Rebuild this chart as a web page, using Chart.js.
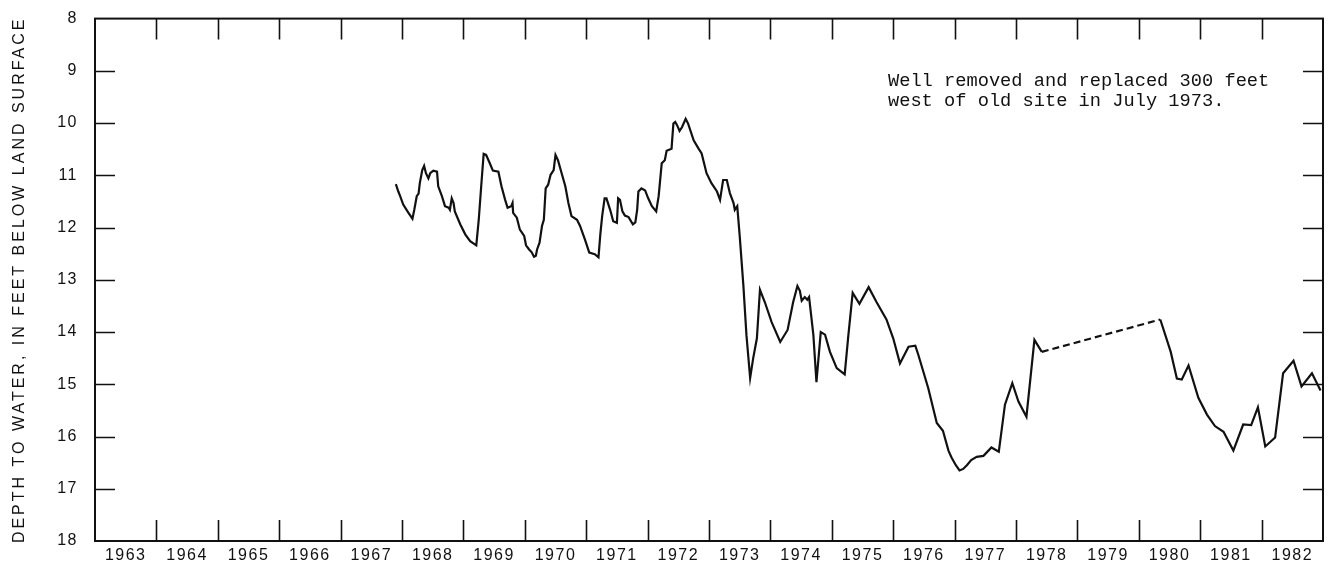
<!DOCTYPE html>
<html><head><meta charset="utf-8">
<script src="https://cdn.jsdelivr.net/npm/chart.js@4.4.0/dist/chart.umd.min.js"></script>
<style>html,body{margin:0;padding:0;background:#fff;}canvas{display:block;}</style>
</head><body>
<canvas id="c" width="1330" height="562"></canvas>
<script>
const tickYears = [1963,1964,1965,1966,1967,1968,1969,1970,1971,1972,1973,1974,1975,1976,1977,1978,1979,1980,1981,1982];
const depthTicks = [8,9,10,11,12,13,14,15,16,17,18];

const yearsA = [1967.90,1967.94,1967.97,1968.02,1968.10,1968.17,1968.20,1968.24,1968.27,1968.29,1968.33,1968.36,1968.39,1968.43,1968.46,1968.51,1968.57,1968.59,1968.65,1968.70,1968.76,1968.78,1968.81,1968.84,1968.86,1968.95,1969.03,1969.11,1969.21,1969.25,1969.29,1969.33,1969.37,1969.43,1969.48,1969.57,1969.62,1969.68,1969.72,1969.78,1969.80,1969.81,1969.87,1969.92,1969.99,1970.02,1970.07,1970.11,1970.15,1970.18,1970.20,1970.24,1970.28,1970.31,1970.34,1970.38,1970.42,1970.47,1970.50,1970.54,1970.60,1970.66,1970.71,1970.76,1970.85,1970.90,1970.98,1971.05,1971.14,1971.20,1971.23,1971.26,1971.30,1971.33,1971.39,1971.44,1971.50,1971.52,1971.55,1971.59,1971.63,1971.69,1971.76,1971.80,1971.83,1971.85,1971.90,1971.96,1972.01,1972.07,1972.14,1972.18,1972.23,1972.28,1972.31,1972.39,1972.42,1972.45,1972.48,1972.52,1972.56,1972.62,1972.66,1972.75,1972.83,1972.88,1972.96,1973.04,1973.13,1973.18,1973.23,1973.29,1973.34,1973.40,1973.42,1973.46,1973.50,1973.56,1973.61,1973.67,1973.72,1973.78,1973.83,1973.91,1974.02,1974.16,1974.28,1974.37,1974.44,1974.48,1974.51,1974.56,1974.60,1974.63,1974.70,1974.75,1974.82,1974.89,1974.97,1975.08,1975.21,1975.27,1975.34,1975.45,1975.60,1975.73,1975.89,1976.00,1976.11,1976.25,1976.36,1976.41,1976.57,1976.71,1976.81,1976.90,1976.95,1977.02,1977.08,1977.14,1977.20,1977.27,1977.36,1977.47,1977.60,1977.72,1977.82,1977.94,1978.04,1978.17,1978.30,1978.42];
const depthsA = [11.17,11.31,11.40,11.56,11.71,11.83,11.66,11.40,11.35,11.15,10.90,10.82,10.96,11.06,10.96,10.91,10.93,11.21,11.40,11.59,11.62,11.66,11.44,11.53,11.69,11.94,12.13,12.26,12.34,11.85,11.21,10.59,10.61,10.77,10.91,10.93,11.21,11.47,11.62,11.59,11.53,11.72,11.81,12.04,12.16,12.34,12.42,12.47,12.56,12.54,12.42,12.29,11.97,11.85,11.25,11.18,10.99,10.90,10.61,10.71,10.96,11.21,11.53,11.78,11.85,11.97,12.23,12.48,12.51,12.57,12.13,11.78,11.44,11.44,11.66,11.88,11.91,11.44,11.47,11.69,11.77,11.80,11.94,11.90,11.66,11.31,11.25,11.29,11.44,11.59,11.69,11.40,10.77,10.71,10.53,10.49,10.01,9.98,10.04,10.15,10.08,9.92,10.01,10.33,10.49,10.58,10.96,11.15,11.31,11.47,11.09,11.09,11.34,11.53,11.66,11.59,12.16,13.11,14.06,14.88,14.50,14.12,13.19,13.43,13.81,14.19,13.96,13.43,13.12,13.21,13.40,13.33,13.38,13.33,14.06,14.96,14.00,14.05,14.38,14.69,14.81,14.06,13.25,13.46,13.14,13.43,13.76,14.12,14.60,14.28,14.26,14.44,15.07,15.74,15.89,16.27,16.40,16.55,16.65,16.62,16.55,16.45,16.39,16.37,16.21,16.29,15.39,14.98,15.33,15.62,14.15,14.38];

const yearsGap = [1978.42,1980.35];
const depthsGap = [14.38,13.76];

const yearsB = [1980.35,1980.52,1980.62,1980.70,1980.81,1980.97,1981.11,1981.24,1981.38,1981.54,1981.70,1981.83,1981.94,1982.06,1982.22,1982.35,1982.52,1982.65,1982.82,1982.96];
const depthsB = [13.76,14.38,14.89,14.91,14.64,15.26,15.58,15.80,15.91,16.27,15.77,15.78,15.44,16.19,16.02,14.79,14.55,15.04,14.79,15.12];

const yTitle = 'DEPTH TO WATER, IN FEET BELOW LAND SURFACE';
const noteLines = ['Well removed and replaced 300 feet', 'west of old site in July 1973.'];
const noteAnchor = {year: 1975.915, depth: 9.29};

function pts(xs, ys) { return xs.map((x, i) => ({x: x, y: ys[i]})); }

const INK = '#111';

const framePlugin = {
  id: 'frame',
  beforeDraw(chart) { chart.ctx.letterSpacing = '1.5px'; },
  afterDatasetsDraw(chart) { chart.ctx.letterSpacing = '3px'; },
  afterDraw(chart) {
    const ctx = chart.ctx;
    const {left, right, top, bottom} = chart.chartArea;
    const xs = chart.scales.x, ys = chart.scales.y;
    ctx.save();
    ctx.letterSpacing = '0px';
    ctx.strokeStyle = INK;
    ctx.lineWidth = 2;
    ctx.strokeRect(left, top, right - left, bottom - top);
    ctx.lineWidth = 1.6;
    ctx.beginPath();
    tickYears.slice(1).forEach(y => {
      const px = Math.round(xs.getPixelForValue(y)) + 0.5;
      ctx.moveTo(px, top); ctx.lineTo(px, top + 21);
      ctx.moveTo(px, bottom); ctx.lineTo(px, bottom - 21);
    });
    depthTicks.slice(1, -1).forEach(d => {
      const py = Math.round(ys.getPixelForValue(d)) + 0.5;
      ctx.moveTo(left, py); ctx.lineTo(left + 20, py);
      ctx.moveTo(right - 20, py); ctx.lineTo(right, py);
    });
    ctx.stroke();
    ctx.fillStyle = INK;
    ctx.font = '18.7px "Liberation Mono", "Courier New", monospace';
    ctx.textAlign = 'left';
    ctx.textBaseline = 'alphabetic';
    const nx = xs.getPixelForValue(noteAnchor.year);
    const ny = ys.getPixelForValue(noteAnchor.depth);
    noteLines.forEach((t, i) => ctx.fillText(t, nx, ny + i * 20));
    ctx.restore();
  }
};

const lineStyle = {showLine: true, borderColor: INK, borderWidth: 2.2, pointRadius: 0, tension: 0, fill: false};

new Chart(document.getElementById('c').getContext('2d'), {
  type: 'scatter',
  data: {
    datasets: [
      Object.assign({data: pts(yearsA, depthsA)}, lineStyle),
      Object.assign({data: pts(yearsGap, depthsGap), borderDash: [7, 4]}, lineStyle),
      Object.assign({data: pts(yearsB, depthsB)}, lineStyle)
    ]
  },
  options: {
    responsive: false,
    animation: false,
    devicePixelRatio: 1,
    layout: {padding: {top: 14, right: 7, left: 0, bottom: 0}},
    plugins: {legend: {display: false}, tooltip: {enabled: false}},
    scales: {
      x: {
        type: 'linear', min: 1963, max: 1983,
        grid: {display: false}, border: {display: false},
        afterBuildTicks: s => { s.ticks = tickYears.map(y => ({value: y + 0.5})); },
        ticks: {autoSkip: false, maxRotation: 0, minRotation: 0, padding: -3, color: INK,
                font: {family: '"Liberation Sans", Arial, sans-serif', size: 16},
                callback: v => String(Math.floor(v))},
        afterFit: s => { s.height = 21; }
      },
      y: {
        type: 'linear', reverse: true, min: 8, max: 18,
        grid: {display: false, z: 1}, border: {display: false},
        afterBuildTicks: s => { s.ticks = depthTicks.map(v => ({value: v})); },
        ticks: {padding: 9, color: INK, font: {family: '"Liberation Sans", Arial, sans-serif', size: 16}},
        title: {display: true, text: yTitle, color: INK,
                font: {family: '"Liberation Sans", Arial, sans-serif', size: 16},
                padding: {top: 10, bottom: 0}},
        afterFit: s => { s.width = 95; }
      }
    }
  },
  plugins: [framePlugin]
});
</script>
</body></html>
